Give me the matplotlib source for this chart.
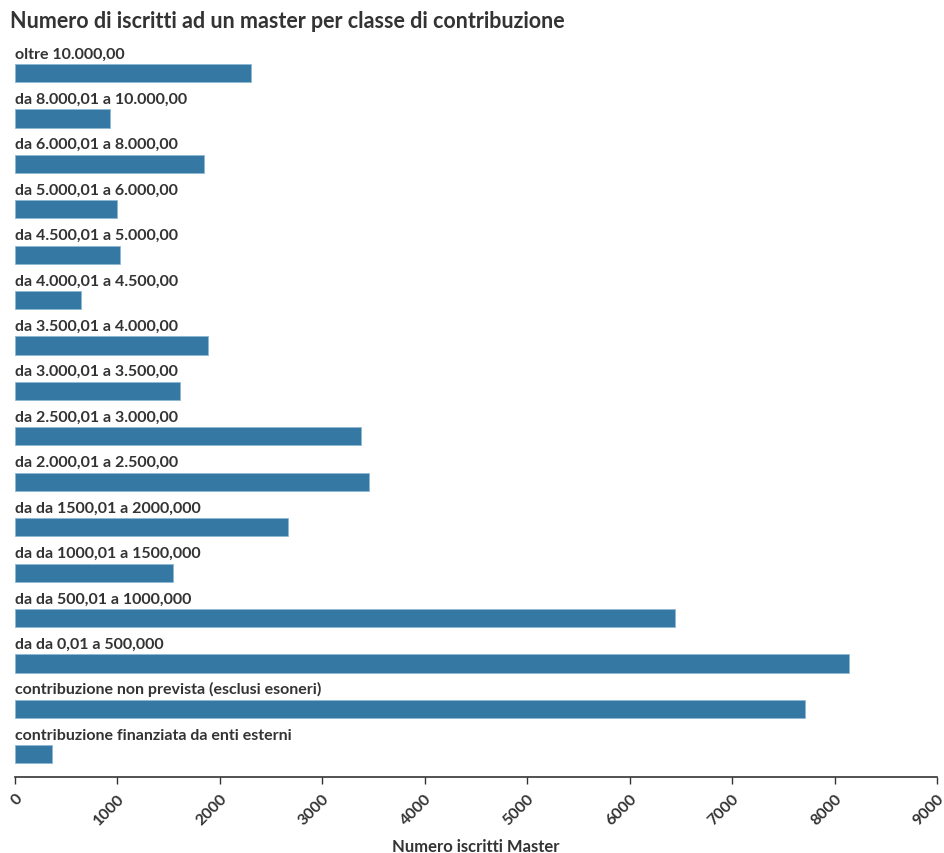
import matplotlib
matplotlib.use("Agg")
import matplotlib.pyplot as plt

categories = [
    "oltre 10.000,00",
    "da 8.000,01 a 10.000,00",
    "da 6.000,01 a 8.000,00",
    "da 5.000,01 a 6.000,00",
    "da 4.500,01 a 5.000,00",
    "da 4.000,01 a 4.500,00",
    "da 3.500,01 a 4.000,00",
    "da 3.000,01 a 3.500,00",
    "da 2.500,01 a 3.000,00",
    "da 2.000,01 a 2.500,00",
    "da da 1500,01 a 2000,000",
    "da da 1000,01 a 1500,000",
    "da da 500,01 a 1000,000",
    "da da 0,01 a 500,000",
    "contribuzione non prevista (esclusi esoneri)",
    "contribuzione finanziata da enti esterni",
]
values = [2305, 930, 1845, 1000, 1025, 645, 1885, 1610, 3380, 3455,
          2665, 1545, 6445, 8145, 7715, 360]
xticks = [0, 1000, 2000, 3000, 4000, 5000, 6000, 7000, 8000, 9000]

FONT = ["Lato", "DejaVu Sans"]
TXT = "#333333"
BAR = "#3578a3"

fig = plt.figure(figsize=(9.44, 8.54), dpi=100)
ax = fig.add_axes([15/944, 1-778/854, (937-15)/944, (778-40)/854])

n = len(categories)
ys = [n - 1 - i for i in range(n)]
ax.barh(ys, values, height=0.4, color=BAR, edgecolor="#8fb8d3", linewidth=0.6)
for y, c in zip(ys, categories):
    ax.text(0, y + 0.28, c, ha="left", va="bottom", fontsize=11.5,
            fontweight="bold", family=FONT, color=TXT)

ax.set_xlim(0, 9000)
ax.set_ylim(-0.5, n - 1 + 0.75)
ax.set_xticks(xticks)
ax.set_xticklabels([str(t) for t in xticks], rotation=45, ha="right", va="top",
                   rotation_mode="anchor", fontsize=11.5, fontweight="bold",
                   family=FONT, color=TXT)
ax.set_yticks([])
for s in ["left", "right", "top"]:
    ax.spines[s].set_visible(False)
ax.spines["bottom"].set_color(TXT)
ax.spines["bottom"].set_linewidth(1.2)
ax.tick_params(axis="x", length=5, width=1, color=TXT, pad=5)

fig.text(476/944, 1-847/854, "Numero iscritti Master", ha="center", va="center",
         fontsize=12, fontweight="bold", family=FONT, color=TXT)

fig.text(10/944, 1-22/854, "Numero di iscritti ad un master per classe di contribuzione",
         ha="left", va="center", fontsize=15.5, fontweight="bold", family=FONT, color=TXT)

fig.savefig("out.png", dpi=100)
